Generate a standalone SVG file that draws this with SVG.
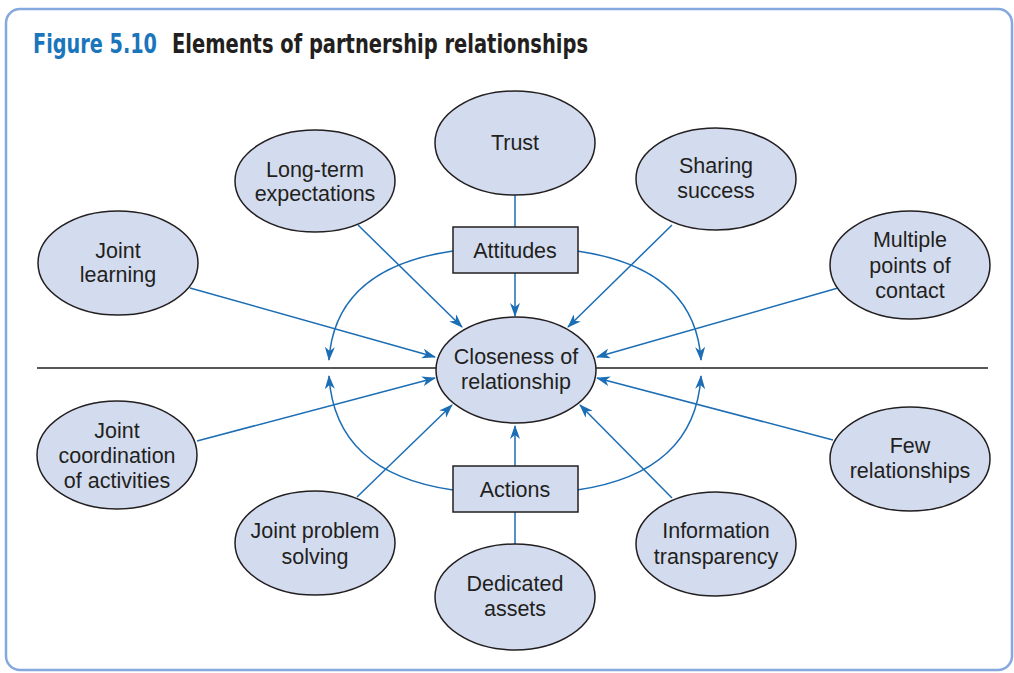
<svg xmlns="http://www.w3.org/2000/svg" width="1014" height="673" viewBox="0 0 1014 673">
<style>
.n ellipse,.n rect{fill:#d3dcef;stroke:#231f20;stroke-width:1.5}
.n text{font-family:"Liberation Sans",Arial,sans-serif;font-size:21.5px;fill:#231f20;text-anchor:middle}
.c path,.c line{stroke:#1b6db4;stroke-width:1.5;fill:none}
.arr{marker-end:url(#ah)}
.t{font-family:"Liberation Sans Narrow","DejaVu Sans Condensed","Liberation Sans",sans-serif;font-weight:bold;font-size:26px}
</style>
<defs>
<marker id="ah" viewBox="0 0 14 10" refX="13" refY="5" markerWidth="15" markerHeight="10" markerUnits="userSpaceOnUse" orient="auto">
<path d="M0,0 L14,5 L0,10 L4,5 z" fill="#1b6db4"/>
</marker>
</defs>
<rect x="6" y="9" width="1006" height="661" rx="14" fill="#fff" stroke="#85a9de" stroke-width="2.5"/>
<text x="33" y="53" class="t" fill="#1a75bb" textLength="124" lengthAdjust="spacingAndGlyphs">Figure 5.10</text>
<text x="172" y="53" class="t" fill="#231f20" textLength="416" lengthAdjust="spacingAndGlyphs">Elements of partnership relationships</text>
<line x1="37" y1="368" x2="988" y2="368" stroke="#231f20" stroke-width="1.3"/>
<g class="c" id="connectors">
<line x1="515" y1="195" x2="515" y2="227"/>
<line x1="515" y1="512" x2="515" y2="545"/>
<line class="arr" x1="515" y1="273" x2="515" y2="316"/>
<line class="arr" x1="515" y1="466" x2="515" y2="426"/>
<line class="arr" x1="358" y1="225" x2="462" y2="327"/>
<line class="arr" x1="672" y1="225" x2="568" y2="327"/>
<line class="arr" x1="190" y1="288" x2="435" y2="357"/>
<line class="arr" x1="838" y1="288" x2="597" y2="357"/>
<line class="arr" x1="197" y1="441" x2="435" y2="378"/>
<line class="arr" x1="833" y1="440" x2="597" y2="378"/>
<line class="arr" x1="357" y1="497" x2="452" y2="405"/>
<line class="arr" x1="672" y1="498" x2="580" y2="405"/>
<path class="arr" d="M453,251 Q335,268 329,360"/>
<path class="arr" d="M577,251 Q695,268 701,360"/>
<path class="arr" d="M453,490 Q335,473 329,376"/>
<path class="arr" d="M577,490 Q695,473 701,376"/>
</g>
<g class="n" id="trust"><ellipse cx="515" cy="143" rx="80" ry="52"/><text x="515" y="150">Trust</text></g>
<g class="n" id="longterm"><ellipse cx="315" cy="181" rx="80" ry="51"/><text x="315" y="177">Long-term</text><text x="315" y="201">expectations</text></g>
<g class="n" id="sharing"><ellipse cx="716" cy="179" rx="80" ry="51"/><text x="716" y="173">Sharing</text><text x="716" y="198">success</text></g>
<g class="n" id="jlearning"><ellipse cx="118" cy="263" rx="80" ry="52"/><text x="118" y="258">Joint</text><text x="118" y="282">learning</text></g>
<g class="n" id="multiple"><ellipse cx="910" cy="265" rx="80" ry="54"/><text x="910" y="247">Multiple</text><text x="910" y="273">points of</text><text x="910" y="298">contact</text></g>
<g class="n" id="attitudes"><rect x="453" y="227" width="125" height="46"/><text x="515" y="258">Attitudes</text></g>
<g class="n" id="closeness"><ellipse cx="516" cy="370" rx="80" ry="53"/><text x="516" y="364">Closeness of</text><text x="516" y="389">relationship</text></g>
<g class="n" id="jcoord"><ellipse cx="117" cy="455" rx="80" ry="54"/><text x="117" y="438">Joint</text><text x="117" y="463">coordination</text><text x="117" y="488">of activities</text></g>
<g class="n" id="few"><ellipse cx="910" cy="459" rx="80" ry="52"/><text x="910" y="453">Few</text><text x="910" y="478">relationships</text></g>
<g class="n" id="actions"><rect x="453" y="466" width="125" height="46"/><text x="515" y="497">Actions</text></g>
<g class="n" id="jproblem"><ellipse cx="315" cy="543" rx="80" ry="52"/><text x="315" y="538">Joint problem</text><text x="315" y="564">solving</text></g>
<g class="n" id="info"><ellipse cx="716" cy="544" rx="80" ry="52"/><text x="716" y="538">Information</text><text x="716" y="564">transparency</text></g>
<g class="n" id="dedicated"><ellipse cx="515" cy="597" rx="80" ry="53"/><text x="515" y="591">Dedicated</text><text x="515" y="616">assets</text></g>
</svg>
